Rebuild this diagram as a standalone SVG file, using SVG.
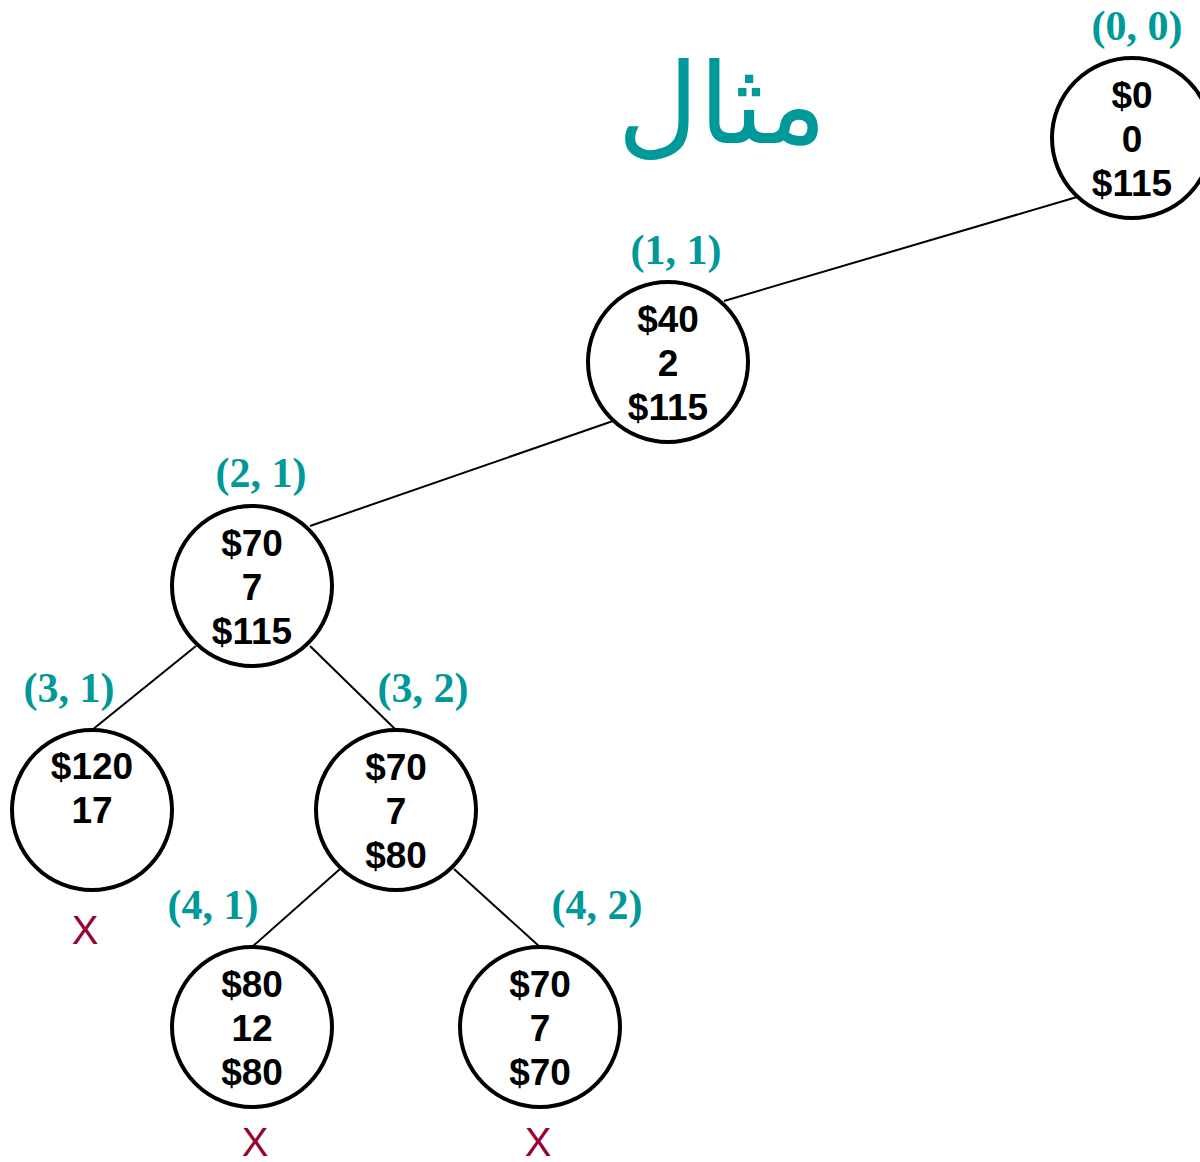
<svg xmlns="http://www.w3.org/2000/svg" width="1200" height="1162" viewBox="0 0 1200 1162">
<style>
.n{fill:#fff;stroke:#000;stroke-width:4}
.t{font-family:"Liberation Sans",Arial,sans-serif;font-weight:bold;font-size:37px;fill:#000;text-anchor:middle}
.l{font-family:"Liberation Serif","Times New Roman",serif;font-weight:bold;font-size:42px;fill:#009999;text-anchor:middle}
.x{font-family:"Liberation Sans",Arial,sans-serif;font-size:40px;fill:#990033;text-anchor:middle}
.c{stroke:#000;stroke-width:2;fill:none}
</style>
<rect width="1200" height="1162" fill="#fff"/>
<text x="722" y="143" font-family="'DejaVu Sans','Noto Sans',sans-serif" font-size="112" fill="#009999" text-anchor="middle">مثال</text>
<g id="connectors">
<line class="c" x1="1077" y1="197" x2="724" y2="301"/>
<line class="c" x1="613" y1="421" x2="310" y2="526"/>
<line class="c" x1="196" y1="646" x2="92" y2="730"/>
<line class="c" x1="310" y1="646" x2="396" y2="730"/>
<line class="c" x1="340" y1="869" x2="252" y2="947"/>
<line class="c" x1="454" y1="869" x2="540" y2="947"/>
</g>
<g id="n00">
<circle class="n" cx="1132" cy="138" r="80"/>
<text class="t" x="1132" y="108">$0</text>
<text class="t" x="1132" y="152">0</text>
<text class="t" x="1132" y="196">$115</text>
<text class="l" x="1137" y="40">(0, 0)</text>
</g>
<g id="n11">
<circle class="n" cx="668" cy="362" r="80"/>
<text class="t" x="668" y="332">$40</text>
<text class="t" x="668" y="376">2</text>
<text class="t" x="668" y="420">$115</text>
<text class="l" x="676" y="264">(1, 1)</text>
</g>
<g id="n21">
<circle class="n" cx="252" cy="586" r="80"/>
<text class="t" x="252" y="556">$70</text>
<text class="t" x="252" y="600">7</text>
<text class="t" x="252" y="644">$115</text>
<text class="l" x="261" y="487">(2, 1)</text>
</g>
<g id="n31">
<circle class="n" cx="92" cy="810" r="80"/>
<text class="t" x="92" y="779">$120</text>
<text class="t" x="92" y="823">17</text>
<text class="l" x="69" y="702">(3, 1)</text>
<text class="x" x="85" y="944">X</text>
</g>
<g id="n32">
<circle class="n" cx="396" cy="810" r="80"/>
<text class="t" x="396" y="780">$70</text>
<text class="t" x="396" y="824">7</text>
<text class="t" x="396" y="868">$80</text>
<text class="l" x="423" y="702">(3, 2)</text>
</g>
<g id="n41">
<circle class="n" cx="252" cy="1027" r="80"/>
<text class="t" x="252" y="997">$80</text>
<text class="t" x="252" y="1041">12</text>
<text class="t" x="252" y="1085">$80</text>
<text class="l" x="213" y="919">(4, 1)</text>
<text class="x" x="255" y="1156">X</text>
</g>
<g id="n42">
<circle class="n" cx="540" cy="1027" r="80"/>
<text class="t" x="540" y="997">$70</text>
<text class="t" x="540" y="1041">7</text>
<text class="t" x="540" y="1085">$70</text>
<text class="l" x="597" y="919">(4, 2)</text>
<text class="x" x="538" y="1156">X</text>
</g>
</svg>
